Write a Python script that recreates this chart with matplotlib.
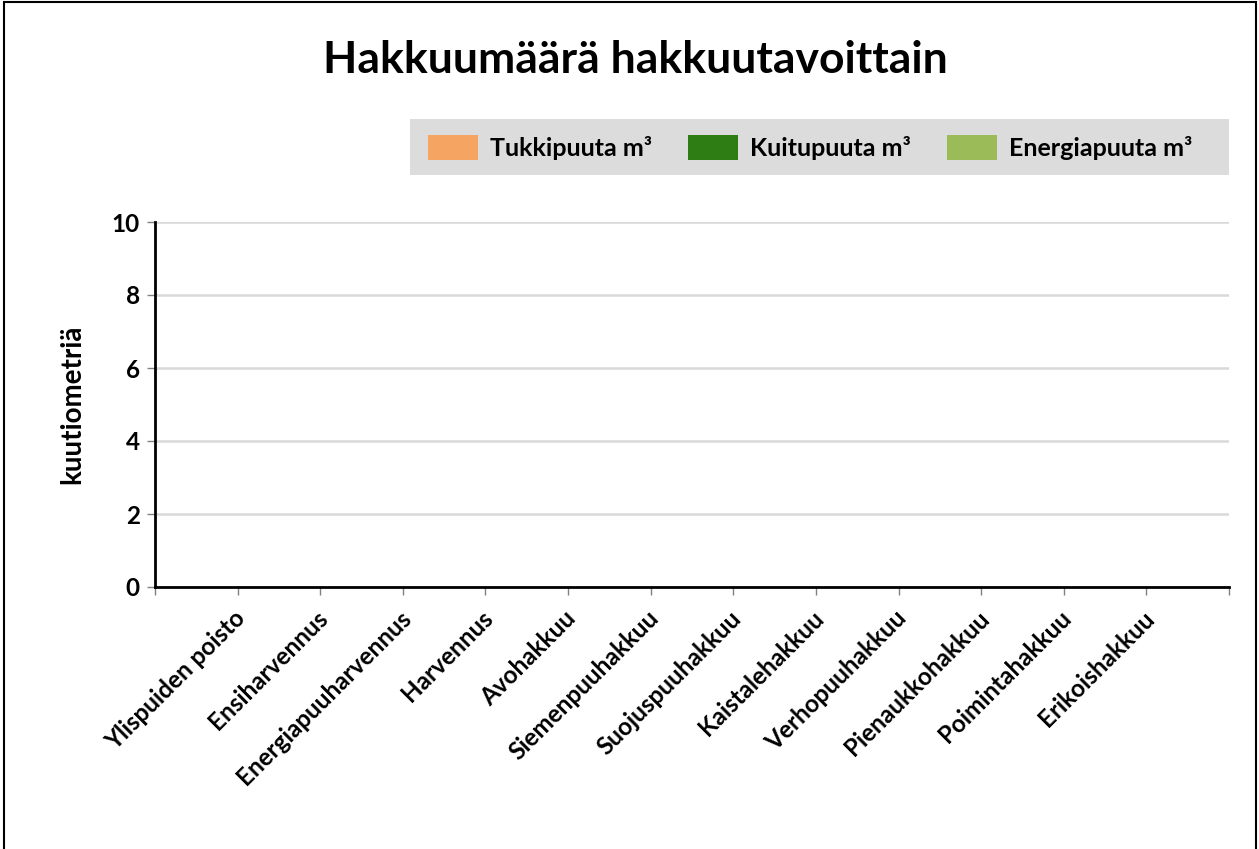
import numpy as np
import matplotlib.pyplot as plt
from matplotlib.patches import Rectangle

# hakkuutavat
categories = ['Ylispuiden poisto', 'Ensiharvennus', 'Energiapuuharvennus', 'Harvennus',
              'Avohakkuu', 'Siemenpuuhakkuu', 'Suojuspuuhakkuu', 'Kaistalehakkuu',
              'Verhopuuhakkuu', 'Pienaukkohakkuu', 'Poimintahakkuu', 'Erikoishakkuu']
tukki = [0, 0, 0, 0, 0, 0, 0, 0, 0, 0, 0, 0]
kuitu = [0, 0, 0, 0, 0, 0, 0, 0, 0, 0, 0, 0]
energia = [0, 0, 0, 0, 0, 0, 0, 0, 0, 0, 0, 0]
series_names = ['Tukkipuuta m³', 'Kuitupuuta m³', 'Energiapuuta m³']
y_ticks = [0, 2, 4, 6, 8, 10]

colors = ['#F5A462', '#2E7D14', '#9BBB59']
plt.rcParams['font.family'] = ['Lato', 'DejaVu Sans']

W, H = 1259, 849
fig = plt.figure(figsize=(W/100, H/100), dpi=100)
ax = fig.add_axes([155/W, 1-587/H, (1229-155)/W, (587-222)/H])

x = np.arange(len(categories)) + 0.5
b1 = np.array(tukki)
b2 = b1 + np.array(kuitu)
ax.bar(x, tukki, width=0.6, color=colors[0])
ax.bar(x, kuitu, bottom=b1, width=0.6, color=colors[1])
ax.bar(x, energia, bottom=b2, width=0.6, color=colors[2])

ax.set_xlim(-0.5, 12.5)
ax.set_ylim(0, 10)
ax.set_yticks(y_ticks)
ax.set_yticklabels([str(v) for v in y_ticks], fontsize=17.5, fontweight='bold')
ax.yaxis.grid(True, color='#d9d9d9', linewidth=1.8)
ax.set_axisbelow(True)

# tick marks on category boundaries, labels end at right boundary
ax.set_xticks(np.arange(-0.5, 13.0, 1.0))
ax.set_xticklabels([''] * 14)
for i, c in enumerate(categories):
    ax.annotate(c, xy=(i + 0.5, 0), xycoords=('data', 'axes fraction'),
                xytext=(-3, -14), textcoords='offset points',
                rotation=45, ha='right', va='top', rotation_mode='anchor',
                fontsize=17.5, fontweight='bold')

for s in ['top', 'right']:
    ax.spines[s].set_visible(False)
ax.spines['left'].set_linewidth(2)
ax.spines['bottom'].set_linewidth(2)
ax.tick_params(axis='both', length=6, width=1, color='#808080')
ax.tick_params(axis='y', pad=5)
ax.set_ylabel('kuutiometriä', fontsize=20, fontweight='bold', labelpad=19)

fig.text(635/W, 1-60/H, 'Hakkuumäärä hakkuutavoittain', ha='center', va='center',
         fontsize=32, fontweight='bold')

# legend box
fig.patches.append(Rectangle((410/W, 1-175/H), (1229-410)/W, 56/H,
                             transform=fig.transFigure, facecolor='#dcdcdc',
                             edgecolor='none'))
leg_x = [428, 688, 947]
for lx, c, n in zip(leg_x, colors, series_names):
    fig.patches.append(Rectangle((lx/W, 1-160/H), 50/W, 25/H,
                                 transform=fig.transFigure, facecolor=c,
                                 edgecolor='none'))
    fig.text((lx + 62)/W, 1-148/H, n, ha='left', va='center',
             fontsize=18, fontweight='bold')

# outer border
fig.patches.append(Rectangle((4/W, -0.01), (1256-4)/W, 1 - 2/H + 0.01,
                             transform=fig.transFigure, fill=False,
                             edgecolor='black', linewidth=1.5))

fig.savefig('out.png', dpi=100)
